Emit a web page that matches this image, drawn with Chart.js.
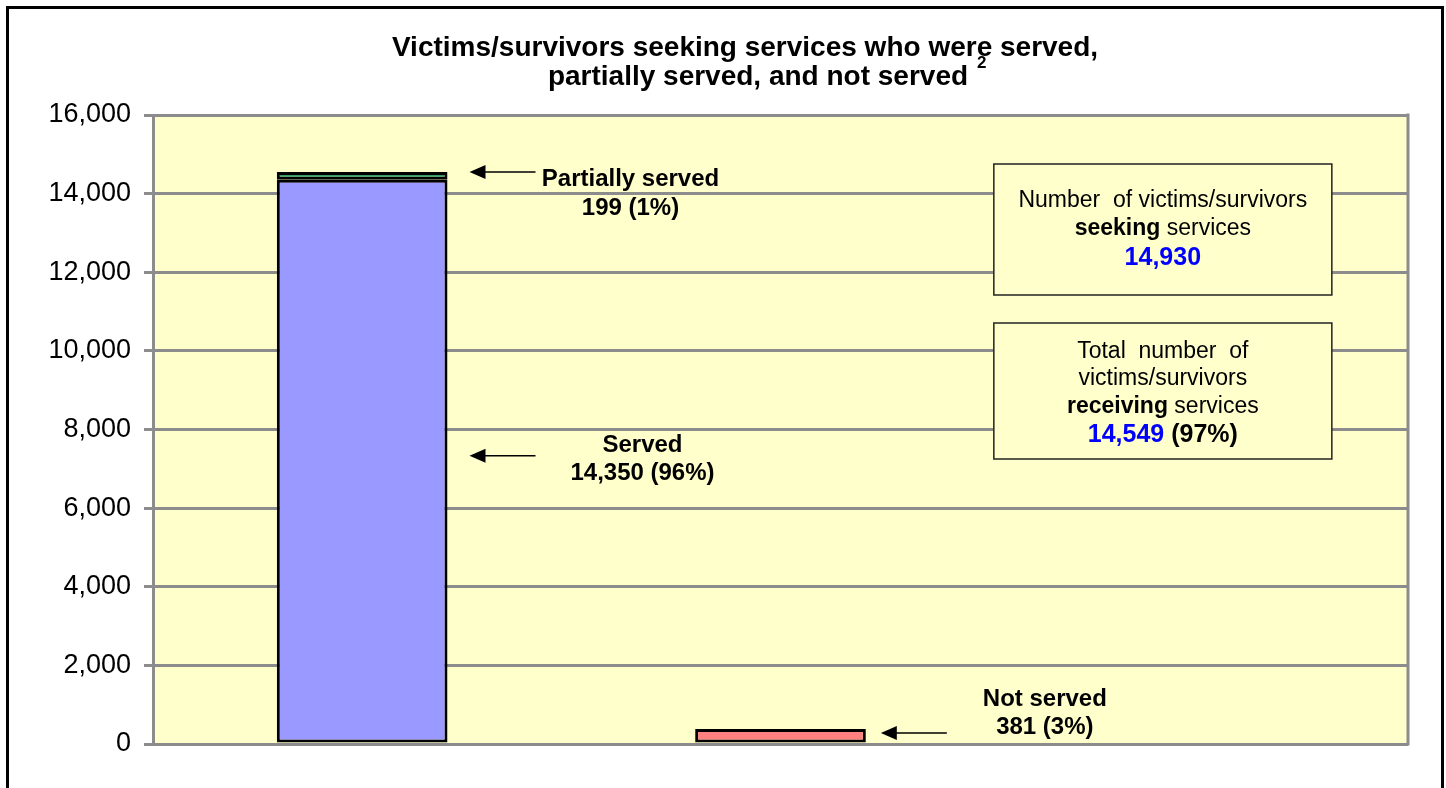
<!DOCTYPE html>
<html>
<head>
<meta charset="utf-8">
<script src="https://cdn.jsdelivr.net/npm/chart.js@4/dist/chart.umd.min.js"></script>
<style>
  html, body { margin: 0; padding: 0; background: #fff; }
  #wrap { width: 1446px; height: 788px; }
</style>
</head>
<body>
<div id="wrap"><canvas id="chart-served" width="1446" height="788"></canvas></div>
<script>
// data
const categories = ['Served / partially served', 'Not served', ''];
const served = [14350, null, null];
const partiallyServed = [199, null, null];
const notServed = [null, 381, null];
const yTicks = [0, 2000, 4000, 6000, 8000, 10000, 12000, 14000, 16000];

const titleLines = ['Victims/survivors seeking services who were served,', 'partially served, and not served'];
const titleNote = '2';

const seekingTotal = 14930;
const receivingTotal = 14549;
const receivingPct = '97%';

// callout text and the value each arrow points at
const calloutLabels = ['Partially served', 'Served', 'Not served'];
const calloutValues = ['199 (1%)', '14,350 (96%)', '381 (3%)'];
const calloutArrowAt = [14549, 7330, 280];

const FONT = '"Liberation Sans", Arial, sans-serif';
const fmt = v => v.toLocaleString('en-US');

function drawSegments(ctx, segs, cx, y) {
  let total = 0;
  for (let s of segs) {
    ctx.font = s.font;
    total += ctx.measureText(s.text).width;
  }
  let x = cx - total / 2;
  ctx.textAlign = 'left';
  for (let s of segs) {
    ctx.font = s.font;
    ctx.fillStyle = s.color || '#000';
    ctx.fillText(s.text, x, y);
    x += ctx.measureText(s.text).width;
  }
}

const decorPlugin = {
  id: 'decor',
  beforeDraw(chart) {
    const ctx = chart.ctx;
    const a = chart.chartArea;
    ctx.save();
    ctx.fillStyle = '#fff';
    ctx.fillRect(0, 0, chart.width, chart.height);
    ctx.fillStyle = '#FFFFCC';
    ctx.fillRect(a.left, a.top, a.right - a.left, a.bottom - a.top);
    ctx.restore();
  },
  afterDraw(chart) {
    const ctx = chart.ctx;
    const a = chart.chartArea;
    const xs = chart.scales.x;
    const ys = chart.scales.y;
    ctx.save();

    // right edge of plot area
    ctx.strokeStyle = '#8c8c8c';
    ctx.lineWidth = 3;
    ctx.beginPath();
    ctx.moveTo(a.right, a.top - 1.5);
    ctx.lineTo(a.right, a.bottom + 1.5);
    ctx.stroke();

    // outer frame
    ctx.strokeStyle = '#000';
    ctx.lineWidth = 3;
    ctx.beginPath();
    ctx.moveTo(7.5, chart.height + 2);
    ctx.lineTo(7.5, 7.5);
    ctx.lineTo(1442.5, 7.5);
    ctx.lineTo(1442.5, chart.height + 2);
    ctx.stroke();

    // title
    ctx.fillStyle = '#000';
    ctx.textBaseline = 'middle';
    ctx.textAlign = 'center';
    ctx.font = 'bold 28px ' + FONT;
    ctx.fillText(titleLines[0], 745, 48);
    ctx.fillText(titleLines[1], 758, 77);
    const w2 = ctx.measureText(titleLines[1]).width;
    ctx.font = 'bold 17px ' + FONT;
    ctx.textAlign = 'left';
    ctx.fillText(titleNote, 758 + w2 / 2 + 9, 63);

    // callouts with arrows
    const bars = [
      chart.getDatasetMeta(1).data[0],
      chart.getDatasetMeta(0).data[0],
      chart.getDatasetMeta(2).data[1]
    ];
    const textDx = [95, 107, 98];
    const textDy = [[7, 36], [-10, 18], [-34, -6]];
    for (let i = 0; i < bars.length; i++) {
      const el = bars[i];
      const right = el.x + el.width / 2;
      const tip = right + (i === 2 ? 15 : 22);
      const tail = tip + 66;
      const y = ys.getPixelForValue(calloutArrowAt[i]);
      ctx.strokeStyle = '#000';
      ctx.fillStyle = '#000';
      ctx.lineWidth = 1.5;
      ctx.beginPath();
      ctx.moveTo(tip + 10, y);
      ctx.lineTo(tail, y);
      ctx.stroke();
      ctx.beginPath();
      ctx.moveTo(tip, y);
      ctx.lineTo(tip + 16, y - 7);
      ctx.lineTo(tip + 16, y + 7);
      ctx.closePath();
      ctx.fill();
      ctx.textAlign = 'center';
      ctx.font = 'bold 24px ' + FONT;
      ctx.fillText(calloutLabels[i], tail + textDx[i], y + textDy[i][0]);
      ctx.fillText(calloutValues[i], tail + textDx[i], y + textDy[i][1]);
    }

    // summary boxes in the empty third category
    const bx = xs.getPixelForValue(2) - 36;
    const bw = 338;
    const boxes = [
      { top: a.top + 49, h: 131, lines: [
        [{ text: 'Number  of victims/survivors', font: '23px ' + FONT }],
        [{ text: 'seeking', font: 'bold 23px ' + FONT }, { text: ' services', font: '23px ' + FONT }],
        [{ text: fmt(seekingTotal), font: 'bold 25px ' + FONT, color: '#0000FF' }]
      ], dy: [37, 65, 94] },
      { top: a.top + 208, h: 136, lines: [
        [{ text: 'Total  number  of', font: '23px ' + FONT }],
        [{ text: 'victims/survivors', font: '23px ' + FONT }],
        [{ text: 'receiving', font: 'bold 23px ' + FONT }, { text: ' services', font: '23px ' + FONT }],
        [{ text: fmt(receivingTotal), font: 'bold 25px ' + FONT, color: '#0000FF' },
         { text: ' (' + receivingPct + ')', font: 'bold 25px ' + FONT }]
      ], dy: [29, 56, 84, 112] }
    ];
    for (let b of boxes) {
      ctx.fillStyle = '#FFFFCC';
      ctx.fillRect(bx - bw / 2, b.top, bw, b.h);
      ctx.strokeStyle = '#222';
      ctx.lineWidth = 1.5;
      ctx.strokeRect(bx - bw / 2, b.top, bw, b.h);
      ctx.textBaseline = 'middle';
      for (let j = 0; j < b.lines.length; j++) {
        drawSegments(ctx, b.lines[j], bx, b.top + b.dy[j]);
      }
    }
    ctx.restore();
  }
};

const dataServed = {
  labels: categories,
  datasets: [{
    label: 'Served',
    backgroundColor: '#9999FF',
    borderColor: '#000',
    borderWidth: 3,
    borderSkipped: false,
    data: served
  },
  {
    label: 'Partially served',
    backgroundColor: '#339966',
    borderColor: '#000',
    borderWidth: 3,
    borderSkipped: false,
    data: partiallyServed
  },
  {
    label: 'Not served',
    backgroundColor: '#FF8080',
    borderColor: '#000',
    borderWidth: 3,
    borderSkipped: false,
    data: notServed
  }]
};

const configServed = {
  type: 'bar',
  data: dataServed,
  options: {
    responsive: false,
    animation: false,
    barPercentage: 1,
    categoryPercentage: 0.408,
    layout: {
      padding: { top: 115, right: 38, bottom: 44, left: 0 }
    },
    plugins: {
      legend: { display: false },
      tooltip: { enabled: false }
    },
    scales: {
      x: {
        stacked: true,
        display: false
      },
      y: {
        stacked: true,
        min: 0,
        max: 16000,
        afterBuildTicks: s => { s.ticks = yTicks.map(v => ({ value: v })); },
        afterFit: s => { s.width = 153; },
        ticks: {
          color: '#000',
          padding: 13,
          font: { family: FONT, size: 27 },
          callback: v => fmt(v)
        },
        grid: {
          color: '#8c8c8c',
          lineWidth: 3,
          tickLength: 9,
          tickColor: '#8c8c8c'
        },
        border: { color: '#8c8c8c', width: 3 }
      }
    }
  },
  plugins: [decorPlugin]
};

const chartServed = new Chart(
  document.getElementById('chart-served'),
  configServed
);
</script>
</body>
</html>
